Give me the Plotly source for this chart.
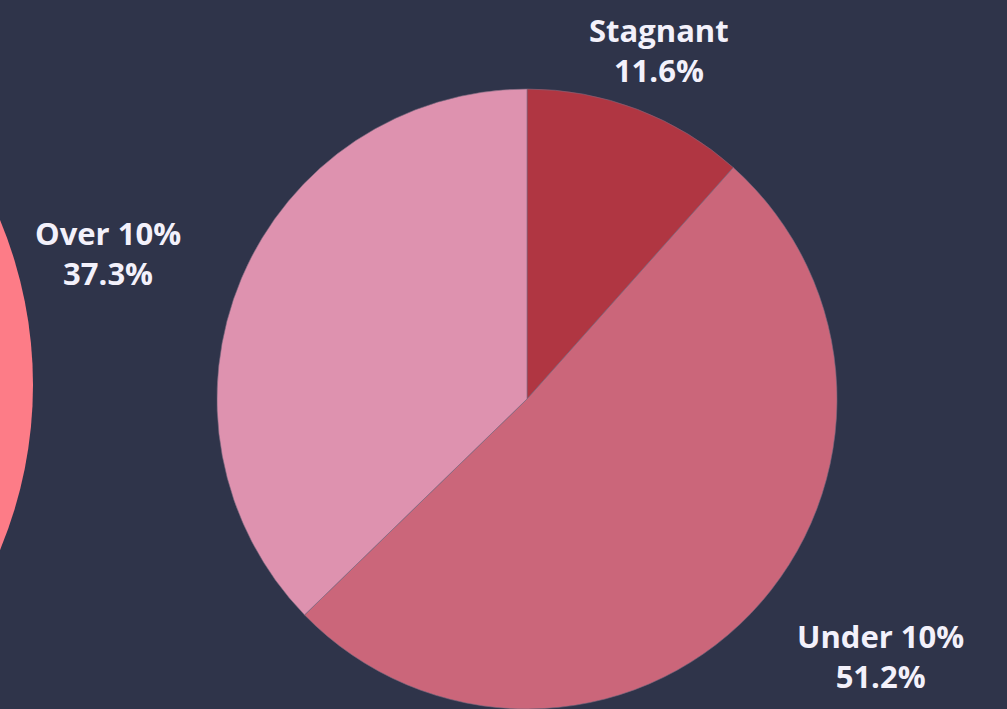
import plotly.graph_objects as go

# Growth buckets and their shares (%)
categories = ["Stagnant", "Under 10%", "Over 10%"]
shares = [11.6, 51.2, 37.3]

slice_colors = ["#b03642", "#cb667a", "#de92af"]
bg_color = "#2f344a"
text_color = "#f3f1fb"

W, H = 1007, 709

fig = go.Figure()

fig.add_trace(go.Pie(
    labels=categories,
    values=shares,
    sort=False,
    direction="clockwise",
    rotation=0,
    textinfo="none",
    hoverinfo="label+percent",
    marker=dict(colors=slice_colors, line=dict(color="#7c6a80", width=0.6)),
    domain=dict(x=[217 / W, 837 / W], y=[0, 620 / H]),
    showlegend=False,
))

# Label placement (paper pixels, from top-left) for each category
label_xy = {
    "Stagnant": (659, 50),
    "Under 10%": (880, 656),
    "Over 10%": (108, 253),
}

annotations = []
for name, val in zip(categories, shares):
    px, py = label_xy[name]
    annotations.append(dict(
        x=px / W, y=1 - py / H, xref="paper", yref="paper",
        text=f"<b>{name}</b><br><b>{val:.1f}%</b>",
        showarrow=False, xanchor="center", yanchor="middle",
        align="center",
        font=dict(family="Open Sans", size=31, color=text_color, weight=800),
    ))

# Neighbouring disc at the left edge
shapes = [dict(
    type="circle", xref="paper", yref="paper",
    x0=(-396 - 429) / W, x1=(-396 + 429) / W,
    y0=1 - (385 + 429) / H, y1=1 - (385 - 429) / H,
    fillcolor="#fd7c87", line=dict(width=0), layer="below",
)]

fig.update_layout(
    width=W, height=H,
    margin=dict(l=0, r=0, t=0, b=0),
    paper_bgcolor=bg_color,
    plot_bgcolor=bg_color,
    annotations=annotations,
    shapes=shapes,
)

fig.write_html("out.html", config={"displayModeBar": False})
